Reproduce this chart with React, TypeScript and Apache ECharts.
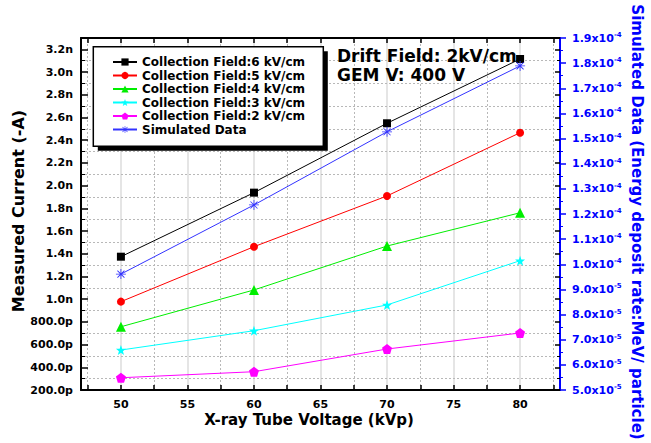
import React, { useEffect, useRef } from 'react';
import * as echarts from 'echarts';

// ---- data ----
const voltages = [50, 60, 70, 80];
const field6 = [1.374, 1.938, 2.549, 3.115]; // nA
const field5 = [0.978, 1.462, 1.909, 2.466];
const field4 = [0.757, 1.081, 1.468, 1.761];
const field3 = [0.552, 0.722, 0.949, 1.339];
const field2 = [0.308, 0.361, 0.561, 0.702];
const simulated = [9.61, 12.36, 15.27, 17.89]; // x1e-5 MeV/particle

const seriesNames = [
  'Collection Field:6 kV/cm',
  'Collection Field:5 kV/cm',
  'Collection Field:4 kV/cm',
  'Collection Field:3 kV/cm',
  'Collection Field:2 kV/cm',
  'Simulated Data',
];
const xLabelValues = [50, 55, 60, 65, 70, 75, 80];
const xTickValues = [47.5, 50, 52.5, 55, 57.5, 60, 62.5, 65, 67.5, 70, 72.5, 75, 77.5, 80, 82.5];
const xMinorGrid = [47.5, 52.5, 57.5, 62.5, 67.5, 72.5, 77.5, 82.5];
const yGridValues = [0.3, 0.5, 0.7, 0.9, 1.1, 1.3, 1.5, 1.7, 1.9, 2.1, 2.3, 2.5, 2.7, 2.9, 3.1];
const annotation = ['Drift Field: 2kV/cm', 'GEM V: 400 V'];
const xTitle = 'X-ray Tube Voltage (kVp)';
const yTitle = 'Measured Current (-A)';
const y2Title = 'Simulated Data (Energy deposit rate:MeV/ particle)';

const FONT = '"DejaVu Sans", Arial, sans-serif';
const BLUE = '#0000ff';

const STAR = 'path://M10 0 L12.35 6.76 L19.51 6.91 L13.8 11.24 L15.88 18.09 L10 14 L4.12 18.09 L6.2 11.24 L0.49 6.91 L7.65 6.76 Z';
const PENTA = 'path://M10 0 L19.51 6.91 L15.88 18.09 L4.12 18.09 L0.49 6.91 Z';
const ASTER =
  'path://M9.2 0 L10.8 0 L10.8 20 L9.2 20 Z M0 9.2 L20 9.2 L20 10.8 L0 10.8 Z ' +
  'M3.6 2.4 L17.6 16.4 L16.4 17.6 L2.4 3.6 Z M16.4 2.4 L17.6 3.6 L3.6 17.6 L2.4 16.4 Z';

function pairs(vals: number[]) {
  return voltages.map((x, i) => [x, vals[i]]);
}

function lineSeries(name: string, vals: number[], color: string, symbol: string, size: number, yAxisIndex = 0) {
  return {
    type: 'line',
    name,
    data: pairs(vals),
    yAxisIndex,
    symbol,
    symbolSize: size,
    z: 3,
    lineStyle: { color, width: 1 },
    itemStyle: { color },
    emphasis: { disabled: true },
  };
}

export default function App() {
  const ref = useRef<HTMLDivElement>(null);
  useEffect(() => {
    if (!ref.current) return;
    const chart = echarts.init(ref.current, undefined, { renderer: 'svg' });
    const tickLabel = { fontFamily: FONT, fontWeight: 'bold', fontSize: 11, color: '#000' };
    const option: any = {
      animation: false,
      backgroundColor: '#fff',
      grid: { left: 81, right: 91, top: 38, bottom: 53 },
      xAxis: [
        {
          type: 'value', min: 47, max: 83, position: 'bottom', z: 4,
          axisLine: { lineStyle: { color: '#000', width: 2 } },
          axisTick: { inside: true, length: 5, customValues: xTickValues, lineStyle: { color: '#000', width: 1.5 } },
          axisLabel: { ...tickLabel, customValues: xLabelValues, margin: 9 },
          splitLine: { show: false },
        },
        {
          type: 'value', min: 47, max: 83, position: 'top', z: 4,
          axisLine: { lineStyle: { color: '#000', width: 2 } },
          axisTick: { inside: true, length: 5, customValues: xTickValues, lineStyle: { color: '#000', width: 1.5 } },
          axisLabel: { show: false },
          splitLine: { show: false },
        },
      ],
      yAxis: [
        {
          type: 'value', min: 0.2, max: 3.3, interval: 0.2, position: 'left', z: 4,
          axisLine: { lineStyle: { color: '#000', width: 2 } },
          axisTick: { inside: true, length: 7, lineStyle: { color: '#000', width: 1.5 } },
          minorTick: { show: true, splitNumber: 2, length: 4, lineStyle: { color: '#000', width: 1 } },
          axisLabel: {
            ...tickLabel, margin: 8, showMaxLabel: false,
            formatter: (v: number) => (v < 0.95 ? (v * 1000).toFixed(1) + 'p' : v.toFixed(1) + 'n'),
          },
          splitLine: { show: false },
        },
        {
          type: 'value', min: 5, max: 19, interval: 1, position: 'right', z: 4,
          axisLine: { lineStyle: { color: BLUE, width: 2 } },
          axisTick: { inside: false, length: 6, lineStyle: { color: BLUE, width: 1.5 } },
          minorTick: { show: true, splitNumber: 2, length: 3, lineStyle: { color: BLUE, width: 1 } },
          axisLabel: {
            margin: 12,
            formatter: (v: number) => {
              const big = v >= 9.95;
              const m = big ? v / 10 : v;
              return `{m|${m.toFixed(1)}x10}{s|${big ? '-4' : '-5'}}`;
            },
            rich: {
              m: { fontFamily: FONT, fontWeight: 'bold', fontSize: 11, color: BLUE },
              s: { fontFamily: FONT, fontWeight: 'bold', fontSize: 7, color: BLUE, padding: [0, 0, 6, 0] },
            },
          },
          splitLine: { show: false },
        },
        {
          type: 'value', min: 0.2, max: 3.3, interval: 0.2, position: 'right', offset: 0, z: 4,
          axisLine: { show: false },
          axisTick: { inside: true, length: 5, lineStyle: { color: '#000', width: 1.5 } },
          minorTick: { show: true, splitNumber: 2, length: 3, lineStyle: { color: '#000', width: 1 } },
          axisLabel: { show: false },
          splitLine: { show: false },
        },
      ],
      legend: {
        data: seriesNames,
        orient: 'vertical',
        left: 112,
        top: 56,
        padding: 0,
        itemWidth: 24,
        itemHeight: 9,
        itemGap: 1.5,
        selectedMode: false,
        z: 10,
        textStyle: { fontFamily: FONT, fontWeight: 'bold', fontSize: 12, color: '#000' },
      },
      graphic: [
        { type: 'rect', z: 5, shape: { x: 97.8, y: 51.2, width: 230, height: 99.5 }, style: { fill: '#000' } },
        { type: 'rect', z: 5, shape: { x: 93.3, y: 46.7, width: 230, height: 99.5 }, style: { fill: '#fff', stroke: '#000', lineWidth: 1.5 } },
        { type: 'text', z: 6, x: 337, y: 56, style: { text: annotation[0], font: `bold 17px ${FONT}`, fill: '#000', align: 'left', verticalAlign: 'middle' } },
        { type: 'text', z: 6, x: 337, y: 75, style: { text: annotation[1], font: `bold 17px ${FONT}`, fill: '#000', align: 'left', verticalAlign: 'middle' } },
        { type: 'text', z: 6, x: 309, y: 420, style: { text: xTitle, font: `bold 15px ${FONT}`, fill: '#000', align: 'center', verticalAlign: 'middle' } },
        { type: 'text', z: 6, x: 18, y: 211, rotation: Math.PI / 2, style: { text: yTitle, font: `bold 16px ${FONT}`, fill: '#000', align: 'center', verticalAlign: 'middle' } },
        { type: 'text', z: 6, x: 637, y: 222, rotation: -Math.PI / 2, style: { text: y2Title, font: `bold 15px ${FONT}`, fill: BLUE, align: 'center', verticalAlign: 'middle' } },
      ],
      series: [
        {
          type: 'line',
          name: 'grid',
          data: [],
          silent: true,
          z: 1,
          markLine: {
            silent: true,
            z: 1,
            symbol: ['none', 'none'],
            label: { show: false },
            emphasis: { disabled: true },
            data: [
              ...xLabelValues.map((v) => ({ xAxis: v, lineStyle: { color: '#dcdcdc', width: 1.5, type: 'solid' } })),
              ...xMinorGrid.map((v) => ({ xAxis: v, lineStyle: { color: '#b8b8b8', width: 1, type: [2, 2] } })),
              ...yGridValues.map((v) => ({ yAxis: v, lineStyle: { color: '#b8b8b8', width: 1, type: [2, 2] } })),
            ],
          },
        },
        lineSeries(seriesNames[0], field6, '#000000', 'rect', 8),
        lineSeries(seriesNames[1], field5, '#ff0000', 'circle', 8),
        lineSeries(seriesNames[2], field4, '#00ee00', 'triangle', 10),
        lineSeries(seriesNames[3], field3, '#00ffff', STAR, 10),
        lineSeries(seriesNames[4], field2, '#ff00ff', PENTA, 10),
        lineSeries(seriesNames[5], simulated, '#3333ff', ASTER, 10, 1),
      ],
    };
    chart.setOption(option);
    return () => chart.dispose();
  }, []);
  return <div ref={ref} style={{ position: 'fixed', left: 0, top: 0, width: 651, height: 443 }} />;
}
